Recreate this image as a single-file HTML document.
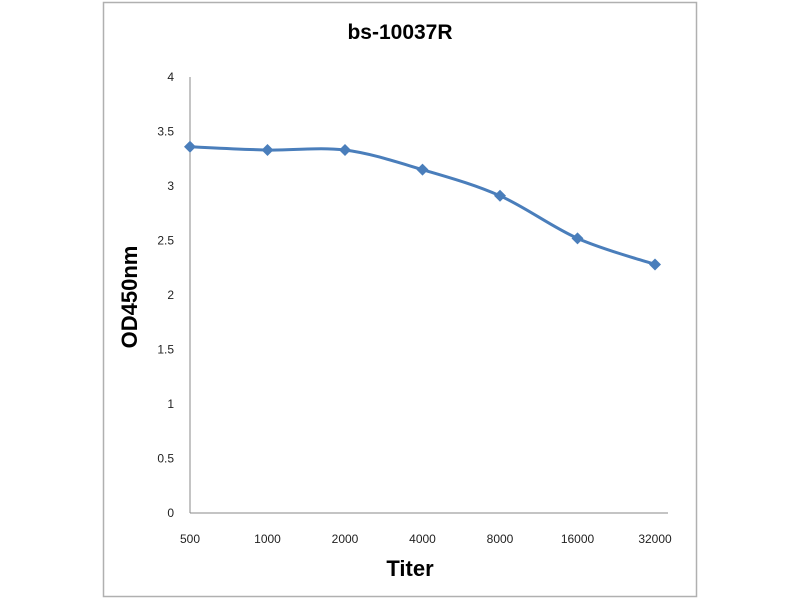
<!DOCTYPE html>
<html><head><meta charset="utf-8"><style>
body{margin:0;background:#fff;}
svg{display:block;font-family:"Liberation Sans",sans-serif;}
</style></head><body>
<svg width="800" height="600">
<rect x="103.5" y="2.5" width="593" height="594" fill="#fff" stroke="#b0b0b0" stroke-width="1.5"/>
<text x="400" y="39" text-anchor="middle" font-size="21" font-weight="bold">bs-10037R</text>
<g id="axes"></g>
<text x="410" y="576" text-anchor="middle" font-size="22" font-weight="bold">Titer</text>
<text transform="translate(137,297) rotate(-90)" text-anchor="middle" font-size="22" font-weight="bold">OD450nm</text>
</svg>
<script>
const categories=["500","1000","2000","4000","8000","16000","32000"];
const values=[3.36,3.33,3.33,3.15,2.91,2.52,2.28];
const yTicks=[0,0.5,1,1.5,2,2.5,3,3.5,4];
const ns="http://www.w3.org/2000/svg";
const g=document.getElementById("axes");
function x(i){return 190+i*77.5;}
function y(v){return 513-v*109;}
function mk(t,a){const e=document.createElementNS(ns,t);for(const k in a)e.setAttribute(k,a[k]);g.appendChild(e);return e;}
let l=mk("line",{x1:190,y1:y(4),x2:190,y2:513,stroke:"#888","stroke-width":1});


l=mk("line",{x1:190,y1:513,x2:668,y2:513,stroke:"#888","stroke-width":1});


yTicks.forEach(v=>{const t=mk("text",{x:174,y:y(v)+4,"text-anchor":"end","font-size":12,fill:"#222"});t.textContent=String(v);

});
categories.forEach((c,i)=>{const t=mk("text",{x:x(i),y:543,"text-anchor":"middle","font-size":12,fill:"#222"});t.textContent=c;

});
let d="M"+x(0)+","+y(values[0]);
for(let i=0;i<values.length-1;i++){
 const p0=[x(Math.max(i-1,0)),y(values[Math.max(i-1,0)])],p1=[x(i),y(values[i])],p2=[x(i+1),y(values[i+1])],p3=[x(Math.min(i+2,values.length-1)),y(values[Math.min(i+2,values.length-1)])];
 const k=1/6;
 d+=` C${p1[0]+(p2[0]-p0[0])*k},${p1[1]+(p2[1]-p0[1])*k} ${p2[0]-(p3[0]-p1[0])*k},${p2[1]-(p3[1]-p1[1])*k} ${p2[0]},${p2[1]}`;
}
const path=mk("path",{d:d,fill:"none",stroke:"#4a7ebb","stroke-width":3});


values.forEach((v,i)=>{const cx=x(i),cy=y(v);
 const m=mk("polygon",{points:`${cx},${cy-6} ${cx+6},${cy} ${cx},${cy+6} ${cx-6},${cy}`,fill:"#4a7ebb"});
 
 });
</script>
</body></html>
